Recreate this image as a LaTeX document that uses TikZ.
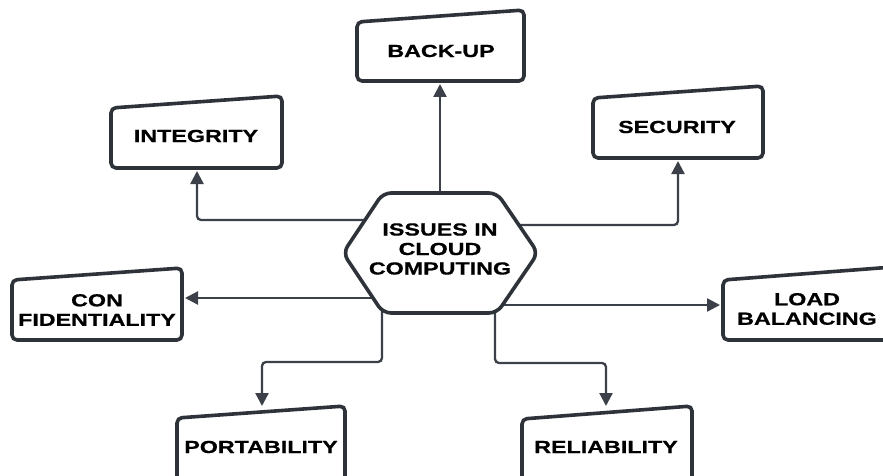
\documentclass[tikz,border=0pt]{standalone}
\usepackage{fontspec}
\setmainfont{Liberation Sans}[FakeStretch=1.33,BoldFeatures={FakeBold=0.6}]
\usetikzlibrary{arrows.meta}
\definecolor{edgec}{HTML}{2E3239}
\definecolor{connc}{HTML}{3B4049}
\newcommand\qbox[5]{\draw[box] (#1,#5) -- (#1,#3) -- (#2,#4) -- (#2,#5) -- cycle;}
\begin{document}
\begin{tikzpicture}[x=1pt,y=-1pt,
  box/.style={draw=edgec,line width=3.6pt,rounded corners=5pt,fill=white},
  hexa/.style={draw=edgec,line width=3.6pt,rounded corners=8pt,fill=white},
  lbl/.style={font=\fontsize{17.5}{19.5}\selectfont\bfseries,align=center,inner sep=0pt,text=black},
  conn/.style={draw=connc,line width=2.3pt,rounded corners=4pt,-{Triangle[length=13pt,width=13pt]}}]
\clip (0,0) rectangle (883,476);
\fill[white] (0,0) rectangle (883,476);
% boxes
\qbox{357}{524}{22}{10}{81}
\qbox{111}{282}{108}{96}{168}
\qbox{593}{763}{98}{86}{158}
\qbox{12}{182}{280}{268}{340}
\qbox{723}{893}{280}{267}{340}
\qbox{177}{345}{418}{406}{500}
\qbox{522}{692}{419}{406}{500}
% labels
\node[lbl] (backup) at (441,51) {BACK-UP};
\node[lbl] (integ) at (196,136) {INTEGRITY};
\node[lbl] (secur) at (677,127) {SECURITY};
\node[lbl] (confid) at (97,310) {CON\\FIDENTIALITY};
\node[lbl] (load) at (807,309) {LOAD\\BALANCING};
\node[lbl] (port) at (261,447) {PORTABILITY};
\node[lbl] (reli) at (606,447) {RELIABILITY};
% box attachment points
\coordinate (backup-s) at (440,84);
\coordinate (integ-s) at (197,171);
\coordinate (secur-s) at (678,161);
\coordinate (confid-e) at (185,298);
\coordinate (load-w) at (720,305);
\coordinate (port-n) at (262,406);
\coordinate (reli-n) at (606,406);
% hub attachment points
\coordinate (h-n) at (440,200);
\coordinate (h-nw) at (368,220);
\coordinate (h-ne) at (516,225);
\coordinate (h-sw) at (376,298);
\coordinate (h-se) at (499,305);
\coordinate (h-s1) at (382,306);
\coordinate (h-s2) at (495,306);
% connectors
\draw[conn] (h-n) -- (backup-s);
\draw[conn] (h-nw) -| (integ-s);
\draw[conn] (h-ne) -| (secur-s);
\draw[conn] (h-sw) -- (confid-e);
\draw[conn] (h-se) -- (load-w);
\draw[conn] (h-s1) |- (322,362) -| (port-n);
\draw[conn] (h-s2) |- (550,363) -| (reli-n);
% hub
\draw[hexa] (383,193) -- (497,193) -- (538,253) -- (497,313) -- (383,313) -- (343,253) -- cycle;
\node[lbl] (hub) at (440,249) {ISSUES IN\\CLOUD\\COMPUTING};
\end{tikzpicture}
\end{document}
